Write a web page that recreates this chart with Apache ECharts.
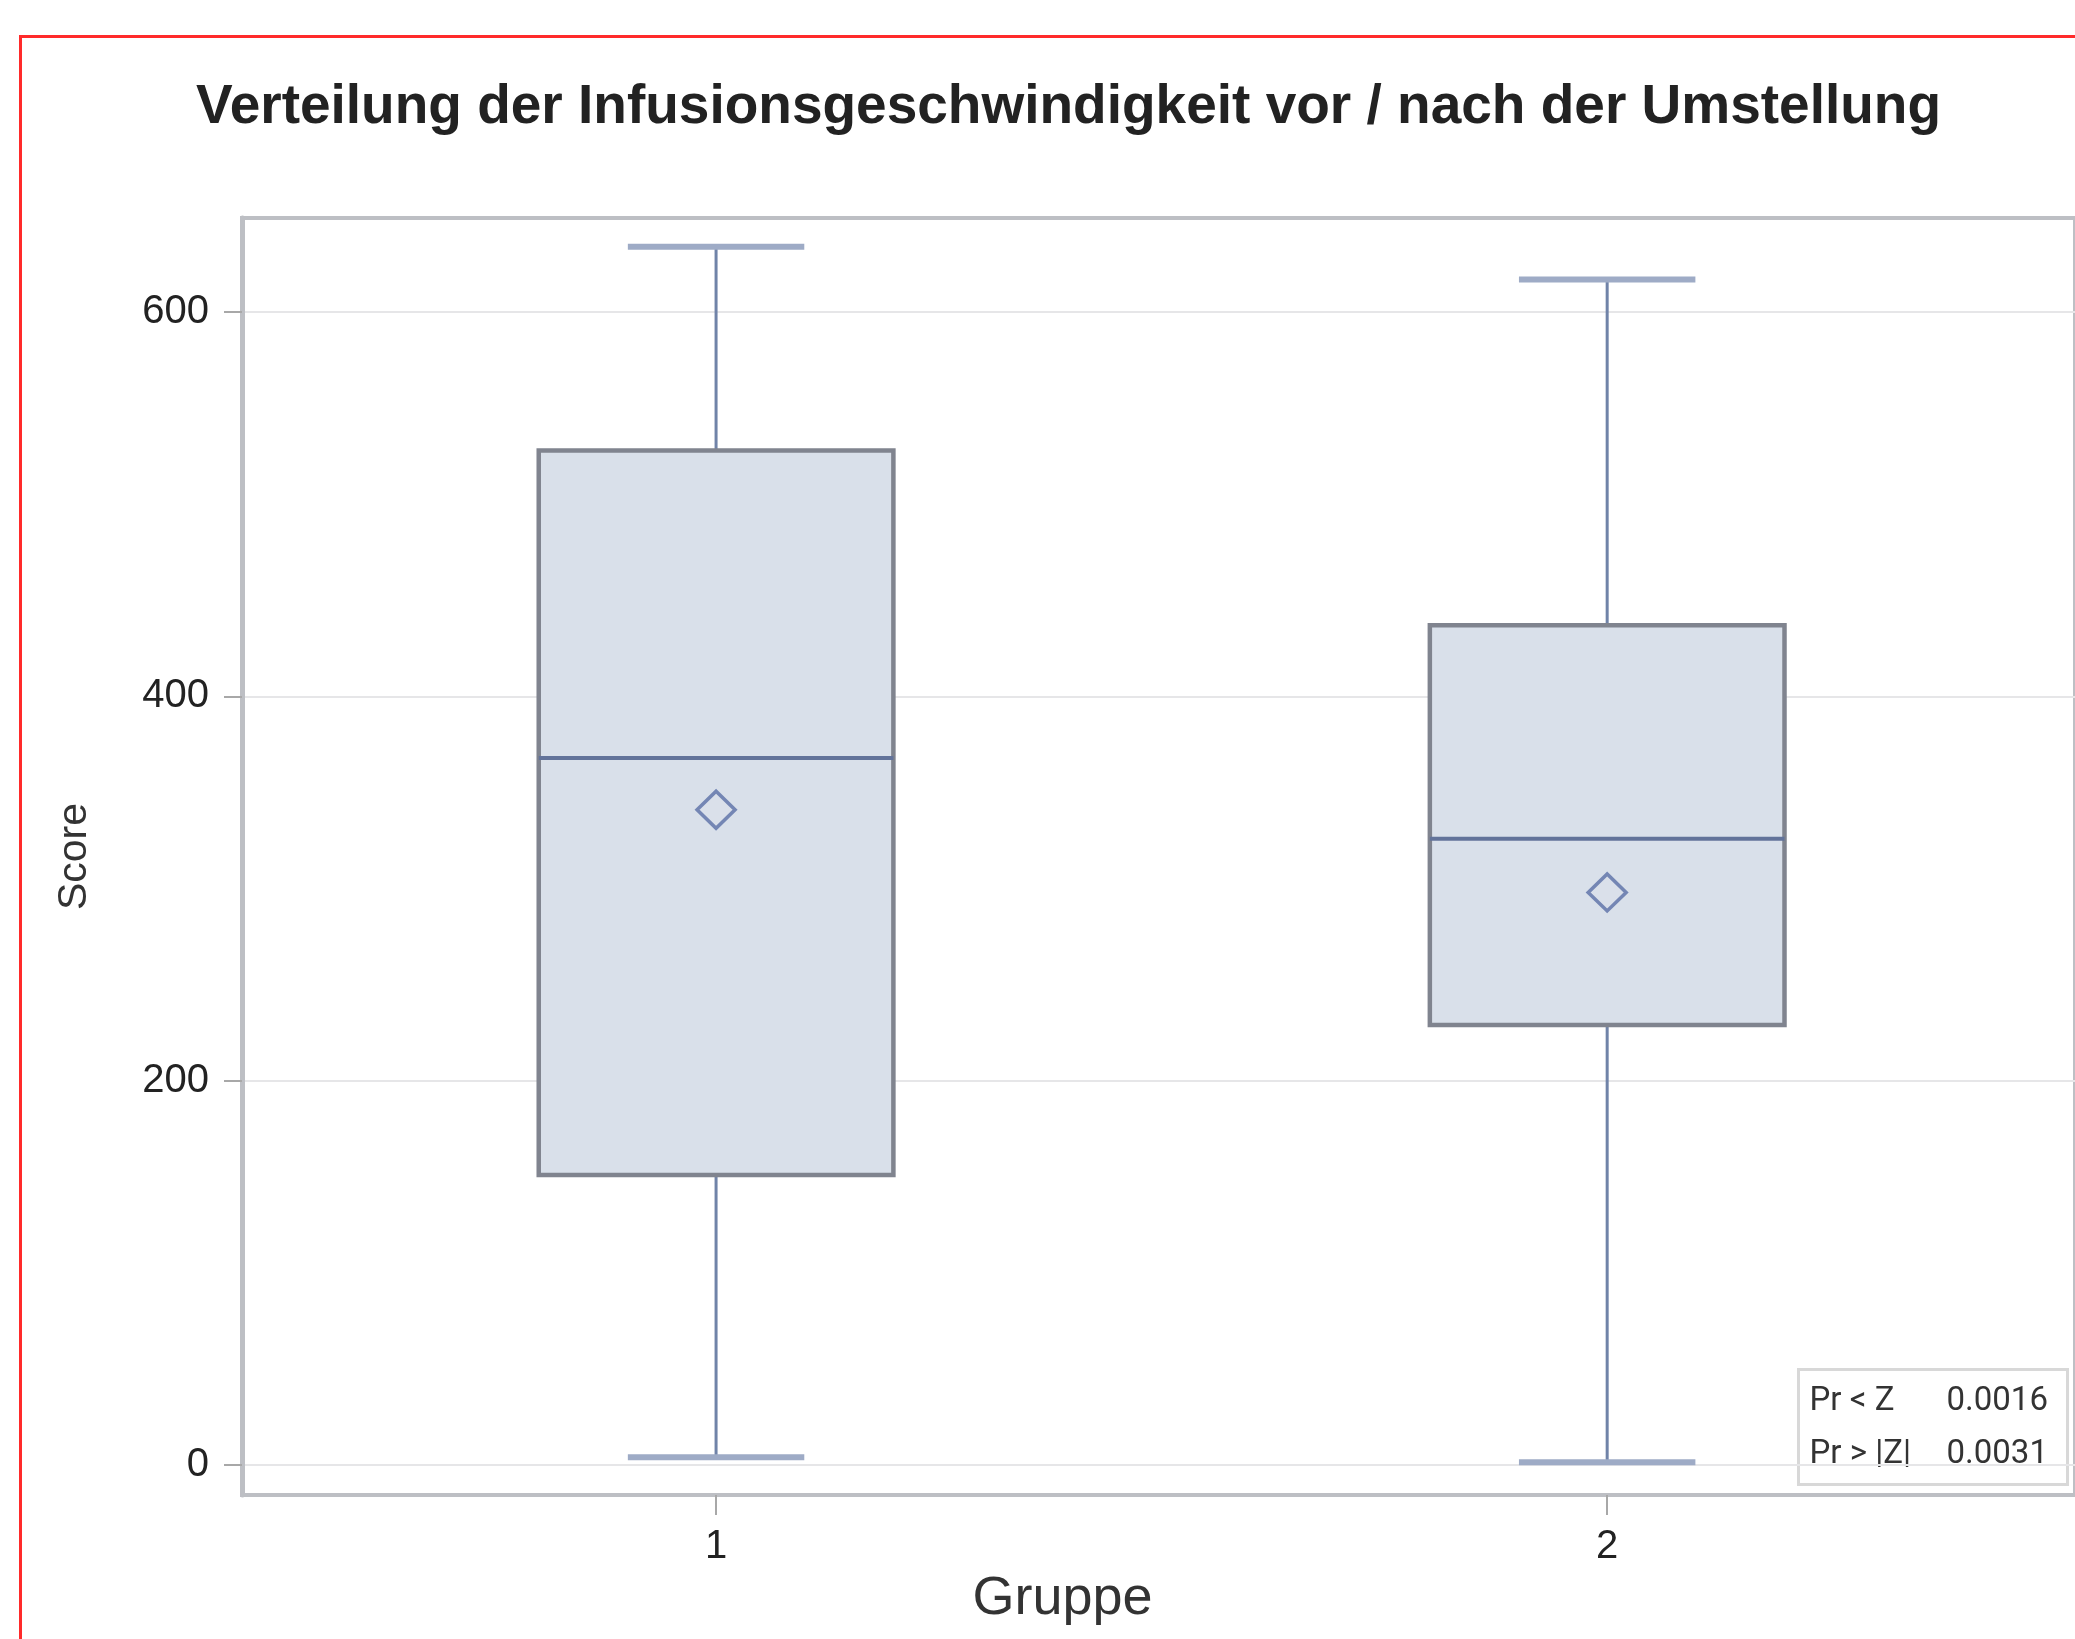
<!DOCTYPE html>
<html>
<head>
<meta charset="utf-8">
<script src="https://cdn.jsdelivr.net/npm/echarts@6/dist/echarts.min.js"></script>
<style>
  html, body { margin: 0; padding: 0; background: #fff; }
  #chart-container { width: 2075px; height: 1639px; }
</style>
</head>
<body>
<div id="chart-container"></div>
<script>
// box statistics per group
const groups = [1, 2];
const whiskerLow = [4, 1.5];
const q1 = [151, 229];
const median = [368, 326];
const q3 = [528, 437];
const whiskerHigh = [634, 617];
const means = [341, 298];

const yTicks = [0, 200, 400, 600];
const xTicks = [1, 2];

const statNames = ["Pr < Z", "Pr > |Z|"];
const statValues = ["0.0016", "0.0031"];

const boxData = groups.map((g, i) => [g, whiskerLow[i], q1[i], median[i], q3[i], whiskerHigh[i]]);
const meanData = groups.map((g, i) => [g, means[i]]);

const FONT = "'Liberation Sans', Arial, sans-serif";
const INSET_FONT = "Roboto, 'Liberation Sans', sans-serif";

function renderBox(params, api) {
  const x = api.value(0);
  const lo = api.coord([x, api.value(1)]);
  const b1 = api.coord([x, api.value(2)]);
  const md = api.coord([x, api.value(3)]);
  const b3 = api.coord([x, api.value(4)]);
  const hi = api.coord([x, api.value(5)]);
  const boxW = api.size([0.398, 0])[0];
  const capW = api.size([0.198, 0])[0];
  const cx = lo[0];
  const whisker = { stroke: "#7083a8", lineWidth: 3 };
  const cap = { stroke: "#9eabc6", lineWidth: 6 };
  return {
    type: "group",
    children: [
      { type: "line", shape: { x1: cx, y1: hi[1], x2: cx, y2: b3[1] }, style: whisker },
      { type: "line", shape: { x1: cx, y1: b1[1], x2: cx, y2: lo[1] }, style: whisker },
      { type: "line", shape: { x1: cx - capW / 2, y1: hi[1], x2: cx + capW / 2, y2: hi[1] }, style: cap },
      { type: "line", shape: { x1: cx - capW / 2, y1: lo[1], x2: cx + capW / 2, y2: lo[1] }, style: cap },
      {
        type: "rect",
        shape: { x: cx - boxW / 2, y: b3[1], width: boxW, height: b1[1] - b3[1] },
        style: { fill: "#d9e0ea", stroke: "#80848f", lineWidth: 4.5 }
      },
      { type: "line", shape: { x1: cx - boxW / 2, y1: md[1], x2: cx + boxW / 2, y2: md[1] }, style: { stroke: "#62739a", lineWidth: 4 } }
    ]
  };
}

const chart = echarts.init(document.getElementById("chart-container"));

const option = {
  animation: false,
  backgroundColor: "#fff",
  title: {
    text: "Verteilung der Infusionsgeschwindigkeit vor / nach der Umstellung",
    left: 196,
    top: 80,
    padding: 0,
    textStyle: { fontFamily: FONT, fontSize: 55, fontWeight: "bold", color: "#222" }
  },
  grid: {
    left: 242,
    top: 218,
    right: 0,
    bottom: 144,
    show: true,
    borderColor: "#bdbfc4",
    borderWidth: 4
  },
  xAxis: {
    type: "value",
    min: 0.468,
    max: 2.525,
    name: "Gruppe",
    nameLocation: "middle",
    nameGap: 72,
    nameTextStyle: { fontFamily: FONT, fontSize: 54, color: "#333", padding: [0, 192, 0, 0] },
    axisLine: { show: true, onZero: false, lineStyle: { color: "#bdbfc4", width: 4 } },
    axisTick: { show: true, customValues: xTicks, length: 20, lineStyle: { color: "#a8a8a8", width: 2 } },
    axisLabel: { customValues: xTicks, margin: 32, fontFamily: FONT, fontSize: 40, color: "#222" },
    splitLine: { show: false }
  },
  yAxis: {
    type: "value",
    min: -15.6,
    max: 649,
    splitNumber: 3,
    name: "Score",
    nameLocation: "middle",
    nameGap: 147,
    nameTextStyle: { fontFamily: FONT, fontSize: 41, color: "#333" },
    axisLine: { show: true, onZero: false, lineStyle: { color: "#bdbfc4", width: 5 } },
    axisTick: { show: true, customValues: yTicks, length: 18, lineStyle: { color: "#a8a8a8", width: 2 } },
    axisLabel: { customValues: yTicks, margin: 33, fontFamily: FONT, fontSize: 40, color: "#222" },
    splitLine: { show: true, lineStyle: { color: "#e6e6e8", width: 2 } }
  },
  series: [
    {
      type: "custom",
      renderItem: renderBox,
      data: boxData,
      encode: { x: 0, y: [1, 2, 3, 4, 5] },
      z: 2
    },
    {
      type: "scatter",
      data: meanData,
      symbol: "diamond",
      symbolSize: [38, 37],
      itemStyle: { color: "#d9e0ea", borderColor: "#5a6fa6", borderWidth: 3.5 },
      z: 3
    }
  ],
  graphic: [
    {
      type: "rect",
      left: 18,
      top: 34,
      shape: { width: 2200, height: 1800 },
      style: { fill: null, stroke: "#ff2a2a", lineWidth: 3 },
      z: 100
    },
    {
      type: "group",
      left: 1797,
      top: 1368,
      z: 50,
      children: [
        {
          type: "rect",
          shape: { x: 0, y: 0, width: 269, height: 115 },
          style: { fill: "#fff", stroke: "#d8d8d8", lineWidth: 3 }
        }
      ].concat(statNames.flatMap((name, i) => [
        {
          type: "text",
          x: 11,
          y: 32 + i * 53,
          style: { text: name, fontFamily: INSET_FONT, fontSize: 33, fill: "#333", verticalAlign: "middle" }
        },
        {
          type: "text",
          x: 148,
          y: 32 + i * 53,
          style: { text: statValues[i], fontFamily: INSET_FONT, fontSize: 33, fill: "#333", verticalAlign: "middle" }
        }
      ]))
    }
  ]
};

chart.setOption(option);
</script>
</body>
</html>
